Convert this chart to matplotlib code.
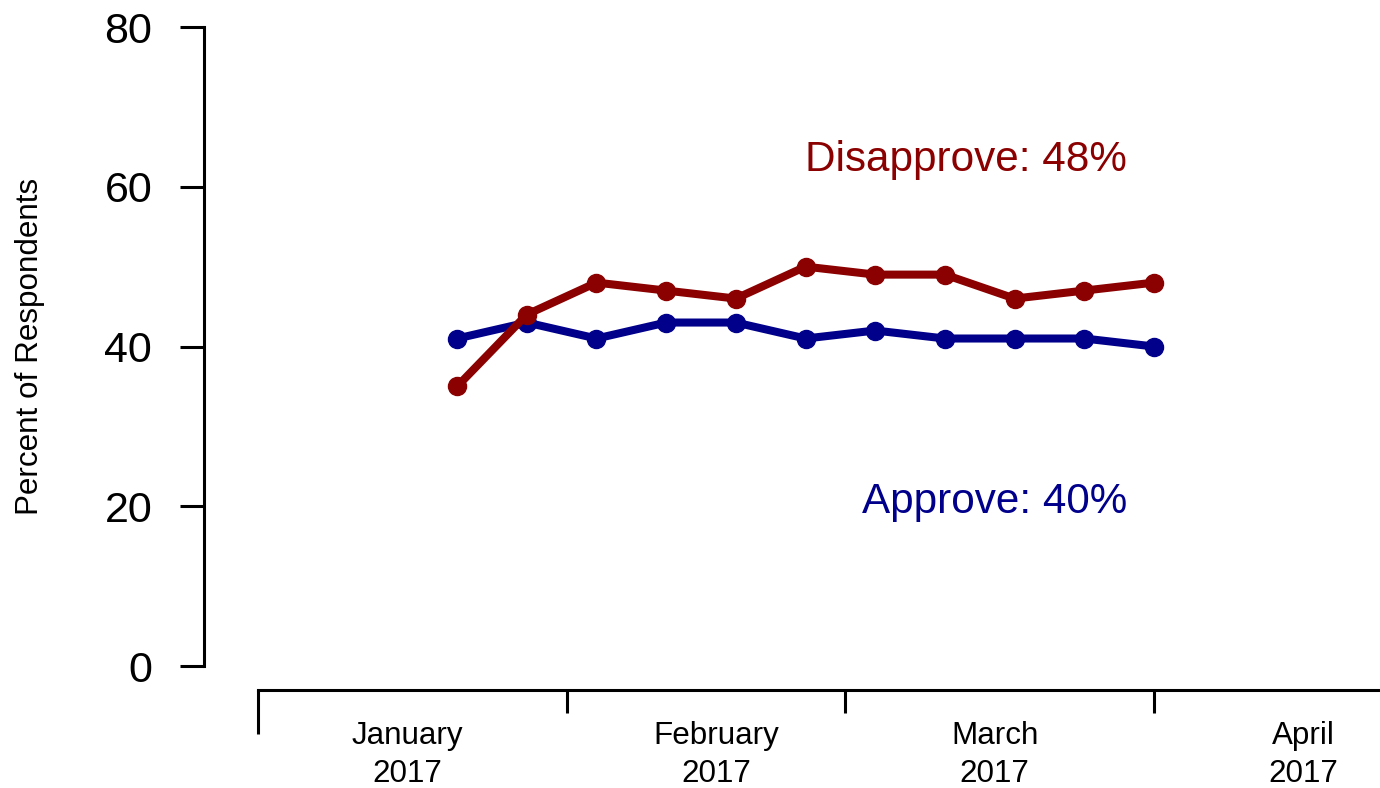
import matplotlib
matplotlib.use("Agg")
import matplotlib.pyplot as plt

plt.rcParams['font.family'] = ['Liberation Sans', 'DejaVu Sans']

# Days since 1 January 2017
days = [20, 27, 34, 41, 48, 55, 62, 69, 76, 83, 90]
disapprove = [35, 44, 48, 47, 46, 50, 49, 49, 46, 47, 48]
approve = [41, 43, 41, 43, 43, 41, 42, 41, 41, 41, 40]

month_ticks = [0, 31, 59, 90]
month_label_pos = [15, 46, 74, 105]
month_labels = ["January\n2017", "February\n2017", "March\n2017", "April\n2017"]
y_ticks = [0, 20, 40, 60, 80]

RED = "#8B0000"
BLUE = "#00008B"

W, H, DPI = 1380, 788, 100
fig = plt.figure(figsize=(W / DPI, H / DPI), dpi=DPI)
px2pt = 72 / DPI

left_px, right_px, top_px, bottom_px = 204, 1380, 27, 666
ax = fig.add_axes([left_px / W, 1 - bottom_px / H,
                   (right_px - left_px) / W, (bottom_px - top_px) / H])

ppd = (1154 - 258) / 90.0
ax.set_xlim((left_px - 258) / ppd, (right_px - 258) / ppd)
ax.set_ylim(0, 80)

ax.plot(days, approve, color=BLUE, lw=5.8, marker='o', ms=13,
        solid_capstyle='round', zorder=3)
ax.plot(days, disapprove, color=RED, lw=5.8, marker='o', ms=13,
        solid_capstyle='round', zorder=4)

ax.text(87.3, 63.3, "Disapprove: 48%", color=RED, fontsize=30.4,
        ha='right', va='center')
ax.text(87.3, 20.5, "Approve: 40%", color=BLUE, fontsize=30.4,
        ha='right', va='center')

for s in ['top', 'right']:
    ax.spines[s].set_visible(False)
ax.spines['left'].set_bounds(0, 80)
ax.spines['left'].set_linewidth(2.2)
ax.spines['bottom'].set_position(('outward', 24 * px2pt))
ax.spines['bottom'].set_bounds(0, ax.get_xlim()[1])
ax.spines['bottom'].set_linewidth(2.2)

ax.set_yticks(y_ticks)
ax.set_yticklabels([str(v) for v in y_ticks], fontsize=31)
ax.tick_params(axis='y', length=24 * px2pt, width=2.2, pad=20)

ax.set_xticks(month_ticks)
ax.set_xticklabels([""] * len(month_ticks))
ax.set_xticks(month_label_pos, minor=True)
ax.set_xticklabels(month_labels, minor=True, fontsize=22.6, linespacing=1.34)
ax.tick_params(axis='x', which='major', length=23 * px2pt, width=2.2)
ax.tick_params(axis='x', which='minor', length=0, pad=22.6)
ax.xaxis.get_major_ticks()[0].tick1line.set_markersize(44 * px2pt)

fig.text(30 / W, 1 - 346 / H, "Percent of Respondents", rotation=90,
         ha='center', va='center', fontsize=22.6)

fig.savefig("out.png", dpi=DPI)
